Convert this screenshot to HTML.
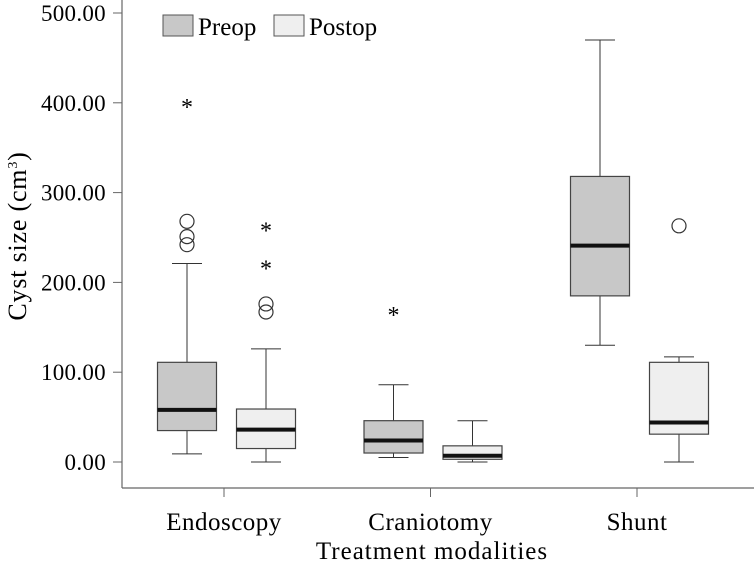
<!DOCTYPE html>
<html><head><meta charset="utf-8"><style>
body{margin:0;background:#fff}
svg{display:block;font-family:"Liberation Serif",serif}
</style></head><body>
<svg id="chart" width="754" height="565">
<g id="axes"></g><g id="boxes"></g>
<g>
<rect x="163" y="15" width="30" height="21" fill="#c8c8c8" stroke="#555"/>
<text x="198" y="35" font-size="25">Preop</text>
<rect x="274" y="15" width="30" height="21" fill="#efefef" stroke="#555"/>
<text x="309" y="35" font-size="25">Postop</text>
</g>
<text x="432" y="559" font-size="25" letter-spacing="1" text-anchor="middle">Treatment modalities</text>
<text transform="translate(26,236) rotate(-90)" font-size="26" letter-spacing="0.8" text-anchor="middle">Cyst size (cm<tspan dy="-9" font-size="14">3</tspan><tspan dy="9">)</tspan></text>
</svg>
<script>
const categories=["Endoscopy","Craniotomy","Shunt"];
const yTicks=[0,100,200,300,400,500];
const preopStats=[[9,35,58,111,221],[5,10,24,46,86],[130,185,241,318,470]];
const postopStats=[[0,15,36,59,126],[0,3,7,18,46],[0,31,44,111,117]];
const preopCircles=[[268,251,242],[],[]];
const preopStars=[[400],[168],[]];
const postopCircles=[[176,167],[],[263]];
const postopStars=[[262,220],[],[]];
const NS="http://www.w3.org/2000/svg";
const y=v=>462-v*0.898;
const xc=i=>224+i*206.5;
function mk(t,a,p){const e=document.createElementNS(NS,t);for(const k in a)e.setAttribute(k,a[k]);p.appendChild(e);return e;}
const ax=document.getElementById('axes'),bx=document.getElementById('boxes');
let l=mk('line',{x1:122,y1:0,x2:122,y2:488,stroke:'#666','stroke-width':1.2},ax);


l=mk('line',{x1:122,y1:488,x2:754,y2:488,stroke:'#666','stroke-width':1.2},ax);


yTicks.forEach(v=>{mk('line',{x1:113,x2:122,y1:y(v),y2:y(v),stroke:'#666'},ax);
const t=mk('text',{x:106,y:y(v)+8,'font-size':23,'letter-spacing':0.3,'text-anchor':'end'},ax);t.textContent=v.toFixed(2);

});
categories.forEach((c,i)=>{mk('line',{x1:xc(i),x2:xc(i),y1:488,y2:497,stroke:'#666'},ax);
const t=mk('text',{x:xc(i),y:530,'font-size':25,'letter-spacing':0.5,'text-anchor':'middle'},ax);t.textContent=c;

});
function box(cx,s,fill,circ,stars,name){
const g=mk('g',{},bx);


const w=59,h=w/2,q=15;
mk('line',{x1:cx,x2:cx,y1:y(s[0]),y2:y(s[1]),stroke:'#333'},g);
mk('line',{x1:cx,x2:cx,y1:y(s[3]),y2:y(s[4]),stroke:'#333'},g);
mk('line',{x1:cx-q,x2:cx+q,y1:y(s[0]),y2:y(s[0]),stroke:'#333'},g);
mk('line',{x1:cx-q,x2:cx+q,y1:y(s[4]),y2:y(s[4]),stroke:'#333'},g);
mk('rect',{x:cx-h,y:y(s[3]),width:w,height:y(s[1])-y(s[3]),fill:fill,stroke:'#444','stroke-width':1.2},g);
mk('line',{x1:cx-h,x2:cx+h,y1:y(s[2]),y2:y(s[2]),stroke:'#111','stroke-width':4},g);
circ.forEach(v=>mk('circle',{cx:cx,cy:y(v),r:7,fill:'none',stroke:'#333','stroke-width':1.2},g));
stars.forEach(v=>{const t=mk('text',{x:cx,y:y(v)+12,'font-size':24,'text-anchor':'middle'},g);t.textContent='*';});
}
categories.forEach((c,i)=>{
box(xc(i)-37,preopStats[i],'#c8c8c8',preopCircles[i],preopStars[i],'box-preop-'+c.toLowerCase());
box(xc(i)+42,postopStats[i],'#efefef',postopCircles[i],postopStars[i],'box-postop-'+c.toLowerCase());
});
</script>
</body></html>
